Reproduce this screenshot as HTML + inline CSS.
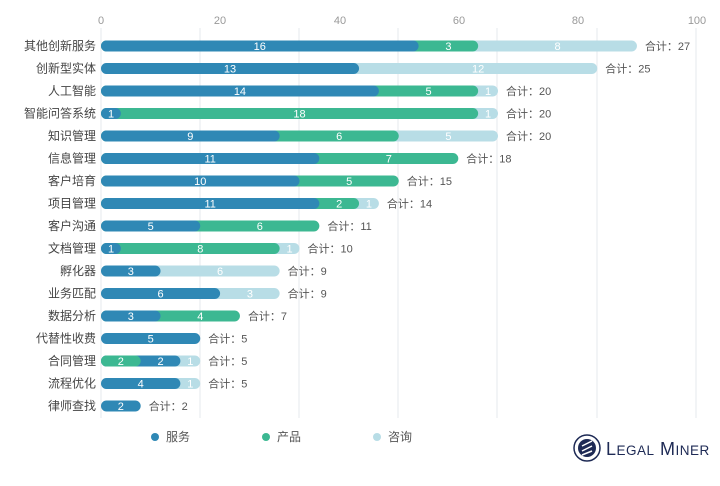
<!DOCTYPE html>
<html><head><meta charset="utf-8"><style>
html,body{margin:0;padding:0;background:#fff;}
text{font-family:"Liberation Sans","Noto Sans CJK SC",sans-serif;}
</style></head><body>
<svg width="720" height="481" xmlns="http://www.w3.org/2000/svg" id="s">
<g stroke="#e6e9ec" stroke-width="1">
<line x1="101" y1="28" x2="101" y2="418"/><line x1="200" y1="28" x2="200" y2="418"/>
<line x1="299" y1="28" x2="299" y2="418"/><line x1="398" y1="28" x2="398" y2="418"/>
<line x1="497" y1="28" x2="497" y2="418"/><line x1="597" y1="28" x2="597" y2="418"/>
<line x1="696" y1="28" x2="696" y2="418"/>
</g>
<g font-size="11" fill="#999" text-anchor="middle">
<text x="101" y="24">0</text><text x="220" y="24">20</text><text x="340" y="24">40</text>
<text x="459" y="24">60</text><text x="578" y="24">80</text><text x="697" y="24">100</text>
</g>
<g id="bars"></g>
<g font-size="12" fill="#555">
<circle cx="155" cy="437" r="4" fill="#2f88b5"/><text x="166" y="441">服务</text>
<circle cx="266" cy="437" r="4" fill="#3cb892"/><text x="277" y="441">产品</text>
<circle cx="377" cy="437" r="4" fill="#b8dde6"/><text x="388" y="441">咨询</text>
</g>
<g>
<circle cx="587" cy="448" r="13" fill="none" stroke="#1e2a55" stroke-width="1.5"/>
<circle cx="587" cy="448" r="9" fill="#1e2a55"/>
<path d="M582 446 L592 441 M582 451 L592 446 M582 455 L592 451" stroke="#fff" stroke-width="1.5"/>
<text x="606" y="455" font-family="Liberation Serif,serif" font-size="18" fill="#1e2a55" letter-spacing="0.5">L<tspan font-size="13.5">EGAL</tspan> M<tspan font-size="13.5">INER</tspan></text>
</g>
</svg>
<script>
const d=[["其他创新服务",16,3,8],["创新型实体",13,0,12],["人工智能",14,5,1],["智能问答系统",1,18,1],["知识管理",9,6,5],["信息管理",11,7,0],["客户培育",10,5,0],["项目管理",11,2,1],["客户沟通",5,6,0],["文档管理",1,8,1],["孵化器",3,0,6],["业务匹配",6,0,3],["数据分析",3,4,0],["代替性收费",5,0,0],["合同管理",2,2,1],["流程优化",4,0,1],["律师查找",2,0,0]];
const s=19.85,x0=101,g=document.getElementById('bars');let h='';
const B='#2f88b5',P='#3cb892',C='#b8dde6';
d.forEach((r,i)=>{const y=46+i*22.5;const [n,a,b,c]=r;const t=a+b+c;
h+=`<text x="96" y="${y+4}" font-size="12" fill="#444" text-anchor="end">${n}</text>`;
let segs=[[a,B],[b,P],[c,C]];
if(n==="合同管理")segs=[[2,P],[2,B],[1,C]];
let ends=[];let cum=0;segs.forEach(q=>{cum+=q[0];ends.push(cum);});
for(let k=2;k>=0;k--){if(segs[k][0]>0){h+=`<rect x="${x0}" y="${y-5.5}" width="${ends[k]*s}" height="11" rx="5.5" fill="${segs[k][1]}"/>`;}}
let st=0;segs.forEach((q,k)=>{if(q[0]>0){const cx=x0+(st+q[0]/2)*s;const cxx=q[0]==1&&k==0?x0+10:cx;h+=`<text x="${cxx}" y="${y+4}" font-size="11" fill="#fff" text-anchor="middle">${q[0]}</text>`;}st+=q[0];});
h+=`<text x="${x0+t*s+8}" y="${y+4}" font-size="11" fill="#555">合计：${t}</text>`;});
g.innerHTML=h;
</script>
</body></html>
